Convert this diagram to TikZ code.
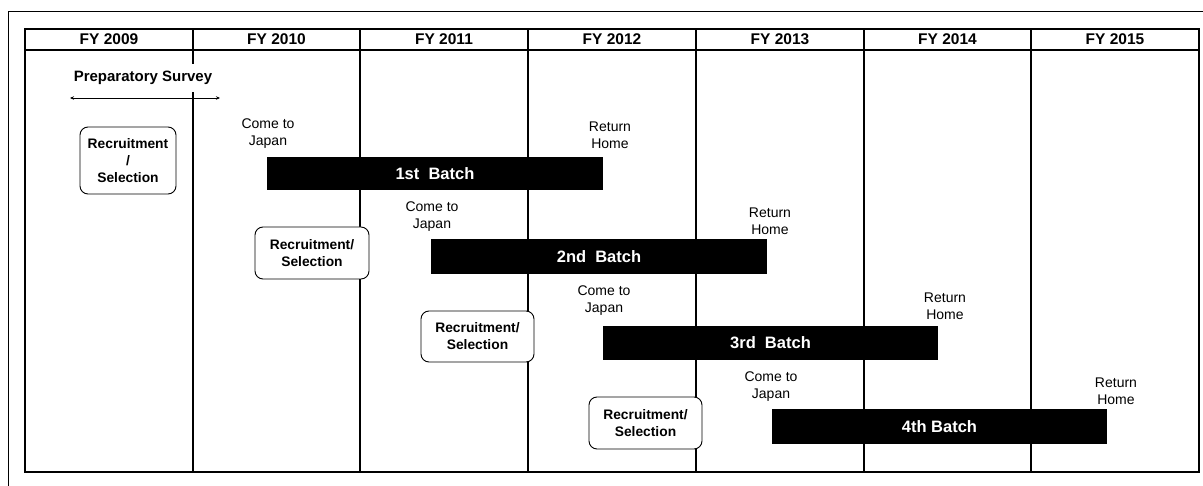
\documentclass[tikz,border=0pt]{standalone}
\usepackage{fontspec}
\setmainfont{Liberation Sans}
\usetikzlibrary{arrows.meta}
\begin{document}
\begin{tikzpicture}[x=1pt,y=-1pt,
  hdr/.style={font=\fontsize{15.5}{18}\selectfont\bfseries, inner sep=0pt},
  lbl/.style={font=\fontsize{14}{17}\selectfont, align=center, inner sep=0pt},
  rbox/.style={draw, fill=white, rounded corners=8pt, line width=0.9pt, align=center, font=\fontsize{13.8}{17}\selectfont\bfseries, inner sep=0pt},
  bar/.style={fill=black, text=white, font=\fontsize{16.5}{20}\selectfont\bfseries, inner sep=0pt, minimum height=34pt},
  tline/.style={line width=1.6pt},
  cline/.style={line width=1.3pt}]
\useasboundingbox (0,0) rectangle (1203,486);
% outer frame
\draw[line width=0.9pt] (8,486) -- (8,11) -- (1203,11);
% table
\foreach \x in {193,360,528,696,864,1031} \draw[cline] (\x,29) -- (\x,472);
\draw[tline] (25,29) rectangle (1199,472);
\draw[tline] (25,50) -- (1199,50);
% headers
\node[hdr] (h2009) at (109,39.5) {FY 2009};
\node[hdr] (h2010) at (276.5,39.5) {FY 2010};
\node[hdr] (h2011) at (444,39.5) {FY 2011};
\node[hdr] (h2012) at (612,39.5) {FY 2012};
\node[hdr] (h2013) at (780,39.5) {FY 2013};
\node[hdr] (h2014) at (947.5,39.5) {FY 2014};
\node[hdr] (h2015) at (1115,39.5) {FY 2015};
% preparatory survey
\node[fill=white, font=\fontsize{15}{18}\selectfont\bfseries, inner xsep=1pt, inner ysep=0pt, minimum height=28pt] (prep) at (143,78) {Preparatory Survey};
\coordinate (psL) at (70,98);
\coordinate (psR) at (220,98);
\draw[{Stealth[length=4pt,width=3.5pt]}-{Stealth[length=4pt,width=3.5pt]}, line width=0.8pt] (psL) -- (psR);
% recruitment boxes
\node[rbox, minimum width=96pt, minimum height=67pt] (r1) at (128,160.5) {Recruitment\\/\\Selection};
\node[rbox, minimum width=114pt, minimum height=52pt] (r2) at (312,253) {Recruitment/\\Selection};
\node[rbox, minimum width=113pt, minimum height=51pt] (r3) at (477.5,336.5) {Recruitment/\\Selection};
\node[rbox, minimum width=113pt, minimum height=52pt] (r4) at (645.5,423) {Recruitment/\\Selection};
% batches
\node[bar, minimum width=336pt, minimum height=33pt] (b1) at (435,173.5) {1st\ \ Batch};
\node[bar, minimum width=336pt, minimum height=35pt] (b2) at (599,256.5) {2nd\ \ Batch};
\node[bar, minimum width=335pt, minimum height=34pt] (b3) at (770.5,343) {3rd\ \ Batch};
\node[bar, minimum width=335pt, minimum height=35pt] (b4) at (939.5,426.5) {4th Batch};
% labels
\node[lbl] (c1) at (268,134) {Come to\\Japan};
\node[lbl] (h1) at (610,135) {Return\\Home};
\node[lbl] (c2) at (432,217) {Come to\\Japan};
\node[lbl] (h2) at (770,221) {Return\\Home};
\node[lbl] (c3) at (604,301) {Come to\\Japan};
\node[lbl] (h3) at (945,306) {Return\\Home};
\node[lbl] (c4) at (771,387) {Come to\\Japan};
\node[lbl] (h4) at (1116,391) {Return\\Home};
\end{tikzpicture}
\end{document}
